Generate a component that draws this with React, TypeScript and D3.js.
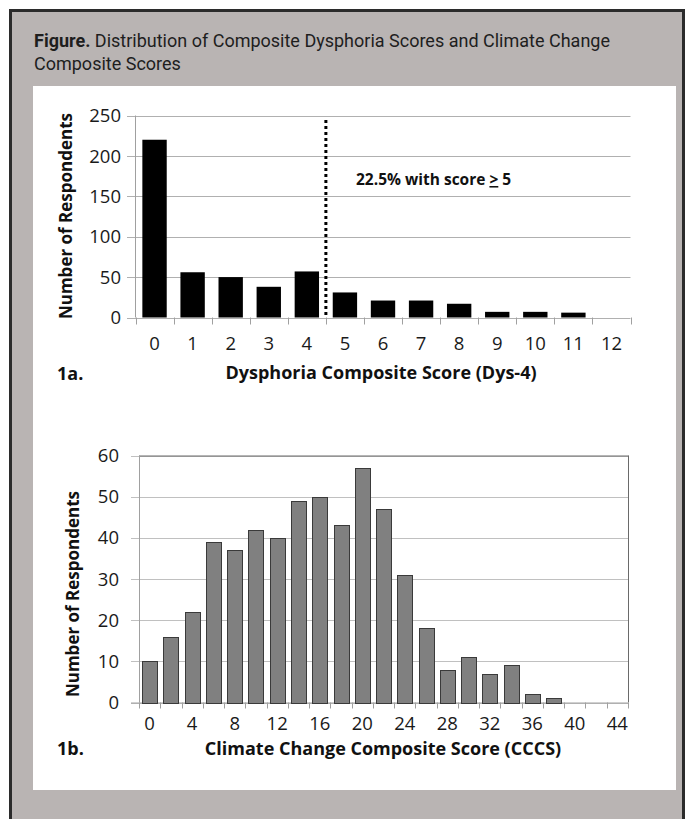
import * as d3 from "d3";

// Figure 1a: Dys-4 composite score distribution
const dysScores = [0, 1, 2, 3, 4, 5, 6, 7, 8, 9, 10, 11, 12];
const dysCounts = [220, 56, 50, 38, 57, 31, 21, 21, 17, 7, 7, 6, 0];
const dysTicks = [0, 50, 100, 150, 200, 250];
const dysCutoff = 5;

// Figure 1b: climate change composite score distribution (bins of 2)
const cccsScores = [0, 2, 4, 6, 8, 10, 12, 14, 16, 18, 20, 22, 24, 26, 28, 30, 32, 34, 36, 38, 40, 42, 44];
const cccsCounts = [10, 16, 22, 39, 37, 42, 40, 49, 50, 43, 57, 47, 31, 18, 8, 11, 7, 9, 2, 1, 0, 0, 0];
const cccsTicks = [0, 10, 20, 30, 40, 50, 60];
const cccsLabels = [0, 4, 8, 12, 16, 20, 24, 28, 32, 36, 40, 44];

const W = 694;
const H = 819;
const chartFont = "'Open Sans', 'DejaVu Sans', sans-serif";

function App() {
  // top chart scales
  const x1 = d3
    .scaleBand<number>()
    .domain(dysScores)
    .range([135.5, 630.5])
    .paddingInner(0.36)
    .paddingOuter(0.18);
  const y1 = d3.scaleLinear().domain([0, 250]).range([317.5, 115.5]);
  const step1 = x1.step();
  const edges1 = d3.range(dysScores.length + 1).map((i) => 135.5 + i * step1);
  const cutX = 135.5 + dysScores.indexOf(dysCutoff) * step1;

  // bottom chart scales
  const x2 = d3
    .scaleBand<number>()
    .domain(cccsScores)
    .range([139, 628])
    .paddingInner(0.3)
    .paddingOuter(0.15);
  const y2 = d3.scaleLinear().domain([0, 60]).range([702.5, 455.5]);
  const step2 = x2.step();
  const edges2 = d3.range(cccsScores.length + 1).map((i) => Math.round(139 + i * step2) + 0.5);

  return (
    <svg width={W} height={H} style={{ position: "absolute", left: 0, top: 0 }}>
      {/* frame */}
      <rect x={10.5} y={10.5} width={673} height={820} fill="#b9b4b3" stroke="#2b2b2b" strokeWidth={3} />
      <text x={34} y={47} fontFamily="Roboto, sans-serif" fontSize={18} fill="#1e1e1e" textLength={576} lengthAdjust="spacingAndGlyphs">
        <tspan fontWeight="bold">Figure.</tspan> Distribution of Composite Dysphoria Scores and Climate Change
      </text>
      <text x={34} y={70} fontFamily="Roboto, sans-serif" fontSize={18} fill="#1e1e1e">
        Composite Scores
      </text>
      <rect x={33} y={86} width={643} height={704} fill="#ffffff" />

      {/* ---------- 1a ---------- */}
      <g fontFamily={chartFont}>
        {dysTicks.map((t) => (
          <g key={t}>
            <line x1={127} x2={630.5} y1={Math.round(y1(t)) + 0.5} y2={Math.round(y1(t)) + 0.5} stroke="#b0b0b0" />
            <text x={121} y={y1(t)} dy="0.36em" textAnchor="end" fontSize={18.5} fill="#1a1a1a">
              {t}
            </text>
          </g>
        ))}
        <line x1={135.5} x2={135.5} y1={y1(250)} y2={y1(0)} stroke="#a0a0a0" />
        {edges1.map((e, i) => (
          <line key={i} x1={Math.round(e) + 0.5} x2={Math.round(e) + 0.5} y1={y1(0)} y2={y1(0) + 7} stroke="#a0a0a0" />
        ))}
        {dysScores.map((s, i) => (
          <rect key={s} x={x1(s)} y={y1(dysCounts[i])} width={x1.bandwidth()} height={y1(0) - y1(dysCounts[i])} fill="#000" />
        ))}
        {dysScores.map((s) => (
          <text key={s} x={x1(s)! + x1.bandwidth() / 2} y={350} textAnchor="middle" fontSize={18.5} fill="#1a1a1a">
            {s}
          </text>
        ))}
        <line x1={cutX} x2={cutX} y1={120} y2={y1(0)} stroke="#000" strokeWidth={3} strokeDasharray="3 3" />
        <text x={356} y={185} fontSize={15.5} fontWeight="bold" fill="#111">
          22.5%  with score <tspan textDecoration="underline">&gt;</tspan> 5
        </text>
        <text x={381} y={379} textAnchor="middle" fontSize={18} fontWeight="bold" fill="#111">
          Dysphoria Composite Score (Dys-4)
        </text>
        <text x={57} y={380} fontSize={18} fontWeight="bold" fill="#111">
          1a.
        </text>
        <text transform="translate(72,216) rotate(-90)" textAnchor="middle" fontSize={17} fontWeight="bold" fill="#111">
          Number of Respondents
        </text>
      </g>

      {/* ---------- 1b ---------- */}
      <g fontFamily={chartFont}>
        {cccsTicks.map((t) => (
          <g key={t}>
            <line x1={131} x2={628} y1={Math.round(y2(t)) + 0.5} y2={Math.round(y2(t)) + 0.5} stroke="#c0c0c0" />
            <text x={119} y={y2(t)} dy="0.36em" textAnchor="end" fontSize={18.5} fill="#1a1a1a">
              {t}
            </text>
          </g>
        ))}
        <line x1={139} x2={628.5} y1={y2(60) + 0.5} y2={y2(60) + 0.5} stroke="#6a6a6a" />
        <line x1={628.5} x2={628.5} y1={y2(60)} y2={y2(0)} stroke="#6a6a6a" />
        <line x1={139.5} x2={139.5} y1={y2(60)} y2={y2(0)} stroke="#a0a0a0" />
        <line x1={131} x2={628} y1={y2(0) + 0.5} y2={y2(0) + 0.5} stroke="#a0a0a0" />
        {edges2.map((e, i) => (
          <line key={i} x1={e} x2={e} y1={y2(0)} y2={y2(0) + 6} stroke="#a0a0a0" />
        ))}
        {cccsScores.map((s, i) =>
          cccsCounts[i] > 0 ? (
            <rect
              key={s}
              x={Math.round(x2(s)!) + 0.5}
              y={Math.round(y2(cccsCounts[i])) + 0.5}
              width={Math.round(x2.bandwidth())}
              height={Math.round(y2(0)) - Math.round(y2(cccsCounts[i]))}
              fill="#808080"
              stroke="#3a3a3a"
              strokeWidth={1}
            />
          ) : null
        )}
        {cccsScores.map((s) =>
          cccsLabels.includes(s) ? (
            <text key={s} x={x2(s)! + x2.bandwidth() / 2} y={730} textAnchor="middle" fontSize={18.5} fill="#1a1a1a">
              {s}
            </text>
          ) : null
        )}
        <text x={383} y={755} textAnchor="middle" fontSize={18} fontWeight="bold" fill="#111">
          Climate Change Composite Score (CCCS)
        </text>
        <text x={57} y={755} fontSize={18} fontWeight="bold" fill="#111">
          1b.
        </text>
        <text transform="translate(79,594) rotate(-90)" textAnchor="middle" fontSize={17} fontWeight="bold" fill="#111">
          Number of Respondents
        </text>
      </g>
    </svg>
  );
}

export default App;
